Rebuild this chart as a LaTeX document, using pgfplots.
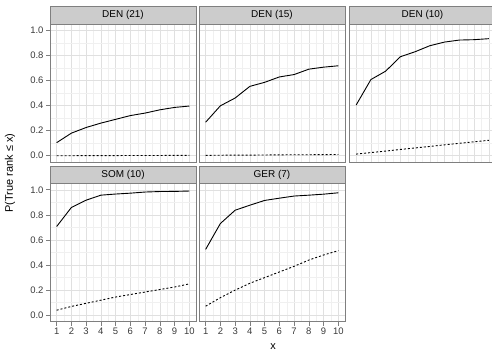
\documentclass[border=0pt]{standalone}
\usepackage{pgfplots}
\pgfplotsset{compat=1.18}
\usepackage{fontspec}
\setmainfont{Liberation Sans}
\definecolor{gridmaj}{HTML}{E0E0E0}
\definecolor{gridmin}{HTML}{F0F0F0}
\definecolor{bordergrey}{HTML}{7F7F7F}
\definecolor{stripgrey}{HTML}{CCCCCC}
\definecolor{ticktext}{HTML}{3A3A3A}
\pgfplotsset{
  panel/.style={
    anchor=south west,
    scale only axis,
    width=146bp, height=138bp,
    xmin=0.55, xmax=10.45, ymin=-0.05, ymax=1.05,
    xtick={1,...,10},
    ytick={0,0.2,0.4,0.6,0.8,1.0},
    yticklabels={0.0,0.2,0.4,0.6,0.8,1.0},
    minor x tick num=1, minor y tick num=1,
    grid=both,
    major grid style={gridmaj, line width=0.5bp},
    minor grid style={gridmin, line width=0.4bp},
    axis line style={bordergrey, line width=0.8bp},
    tick align=outside,
    major tick length=4bp, minor tick length=0bp,
    tick style={bordergrey, line width=0.6bp},
    xtick pos=bottom, ytick pos=left,
    /pgf/number format/assume math mode=true,
    tick label style={font=\fontsize{9.5}{9.5}\selectfont, text=ticktext},
    xticklabel style={yshift=1bp},
    yticklabel style={xshift=1bp},
  },
  noxt/.style={xticklabels={}, xtick style={draw=none}},
  noyt/.style={yticklabels={}, ytick style={draw=none}},
  sol/.style={black, line width=0.9bp, mark=none},
  das/.style={black, line width=0.9bp, mark=none, dash pattern=on 2bp off 2bp},
}
\begin{document}
\begin{tikzpicture}
% Panel 1: DEN (21)
\begin{axis}[panel, noxt, name=p1, at={(50bp,193bp)}]
\addplot[sol] coordinates {(1,0.104)(2,0.180)(3,0.225)(4,0.260)(5,0.290)(6,0.320)(7,0.340)(8,0.366)(9,0.385)(10,0.396)};
\addplot[das] coordinates {(1,0.000)(2,0.000)(3,0.001)(4,0.001)(5,0.001)(6,0.002)(7,0.002)(8,0.002)(9,0.003)(10,0.003)};
\end{axis}
% Panel 2: DEN (15)
\begin{axis}[panel, noxt, noyt, name=p2, at={(199bp,193bp)}]
\addplot[sol] coordinates {(1,0.267)(2,0.398)(3,0.460)(4,0.553)(5,0.585)(6,0.628)(7,0.647)(8,0.690)(9,0.706)(10,0.717)};
\addplot[das] coordinates {(1,0.003)(2,0.004)(3,0.005)(4,0.005)(5,0.006)(6,0.007)(7,0.008)(8,0.008)(9,0.009)(10,0.010)};
\end{axis}
% Panel 3: DEN (10)
\begin{axis}[panel, noxt, noyt, name=p3, at={(349.5bp,193bp)}]
\addplot[sol] coordinates {(1,0.404)(2,0.607)(3,0.674)(4,0.789)(5,0.829)(6,0.877)(7,0.906)(8,0.922)(9,0.925)(10,0.933)};
\addplot[das] coordinates {(1,0.013)(2,0.025)(3,0.037)(4,0.050)(5,0.062)(6,0.074)(7,0.087)(8,0.099)(9,0.111)(10,0.123)};
\end{axis}
% Panel 4: SOM (10)
\begin{axis}[panel, name=p4, at={(50bp,33.5bp)}]
\addplot[sol] coordinates {(1,0.707)(2,0.859)(3,0.917)(4,0.957)(5,0.966)(6,0.973)(7,0.982)(8,0.986)(9,0.987)(10,0.990)};
\addplot[das] coordinates {(1,0.040)(2,0.070)(3,0.095)(4,0.120)(5,0.145)(6,0.165)(7,0.185)(8,0.205)(9,0.225)(10,0.250)};
\end{axis}
% Panel 5: GER (7)
\begin{axis}[panel, noyt, name=p5, at={(199bp,33.5bp)}]
\addplot[sol] coordinates {(1,0.525)(2,0.731)(3,0.837)(4,0.877)(5,0.915)(6,0.933)(7,0.950)(8,0.957)(9,0.965)(10,0.976)};
\addplot[das] coordinates {(1,0.072)(2,0.140)(3,0.200)(4,0.255)(5,0.300)(6,0.345)(7,0.390)(8,0.440)(9,0.480)(10,0.515)};
\end{axis}
% strips
\foreach \p/\t in {p1/DEN (21),p2/DEN (15),p3/DEN (10),p4/SOM (10),p5/GER (7)}{
  \node[draw=bordergrey, line width=0.8bp, fill=stripgrey, minimum width=146bp, minimum height=17.5bp,
        anchor=south west, inner sep=0pt, outer sep=0pt, font=\fontsize{10}{10}\selectfont]
        at (\p.north west) {\t};
}
% axis titles
\node[rotate=90, font=\fontsize{11}{11}\selectfont] at (10bp,182bp) {P(True rank ≤ x)};
\node[font=\fontsize{11}{11}\selectfont] at (273bp,8.5bp) {x};
\pgfresetboundingbox
\useasboundingbox (0,0) rectangle (492bp,355bp);
\end{tikzpicture}
\end{document}
